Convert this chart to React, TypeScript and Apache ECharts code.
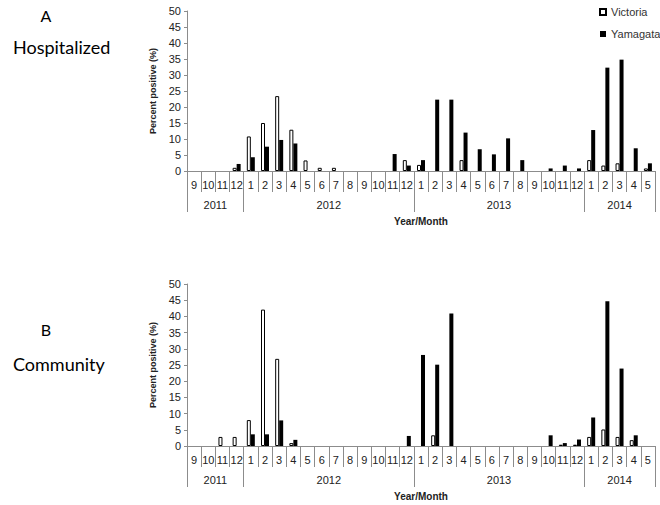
import React, { useEffect, useRef } from "react";
import * as echarts from "echarts";

const months = [
  "9", "10", "11", "12",
  "1", "2", "3", "4", "5", "6", "7", "8", "9", "10", "11", "12",
  "1", "2", "3", "4", "5", "6", "7", "8", "9", "10", "11", "12",
  "1", "2", "3", "4", "5",
];
const years = ["2011", "2012", "2013", "2014"];
const yearSpans = [4, 12, 12, 5];

const hospVictoria = [
  0, 0, 0, 1.0,
  10.8, 15.0, 23.4, 12.9, 3.3, 1.0, 1.0, 0, 0, 0, 0, 3.4,
  1.9, 0, 0, 3.4, 0, 0, 0, 0, 0, 0, 0, 0,
  3.4, 1.7, 2.4, 0, 0.8,
];
const hospYamagata = [
  0, 0, 0, 2.2,
  4.3, 7.6, 9.7, 8.6, 0, 0, 0, 0, 0, 0, 5.3, 1.7,
  3.4, 22.3, 22.3, 12.0, 6.8, 5.2, 10.2, 3.4, 0, 0.8, 1.7, 0.8,
  12.8, 32.3, 34.8, 7.1, 2.4,
];
const commVictoria = [
  0, 0, 2.8, 2.8,
  8.0, 42.1, 26.9, 0.9, 0, 0, 0, 0, 0, 0, 0, 0,
  0, 3.3, 0, 0, 0, 0, 0, 0, 0, 0, 0.4, 0.4,
  2.8, 5.1, 2.8, 1.8, 0,
];
const commYamagata = [
  0, 0, 0, 0,
  3.6, 3.6, 7.9, 1.9, 0, 0, 0, 0, 0, 0, 0, 3.1,
  28.1, 25.1, 40.9, 0, 0, 0, 0, 0, 0, 3.3, 0.9, 2.0,
  8.8, 44.7, 23.9, 3.3, 0,
];

const AXIS_COLOR = "#8c8c8c";
const TEXT_COLOR = "#222";
const FONT = "Liberation Sans";

export default function App() {
  const ref = useRef<HTMLDivElement>(null);

  useEffect(() => {
    if (!ref.current) return;
    const chart = echarts.init(ref.current, undefined, { renderer: "svg" });

    const boundaries: number[] = [0];
    const centers: number[] = [];
    let acc = 0;
    yearSpans.forEach((s) => {
      centers.push(acc + s / 2);
      acc += s;
      boundaries.push(acc);
    });
    const total = acc;

    const monthAxis = (g: number) => ({
      type: "category",
      gridIndex: g,
      data: months,
      position: "bottom",
      axisLine: { show: true, lineStyle: { color: AXIS_COLOR, width: 1 } },
      axisTick: { show: true, interval: 0, length: 21, lineStyle: { color: AXIS_COLOR } },
      axisLabel: { interval: 0, margin: 8, fontSize: 11, color: TEXT_COLOR, fontFamily: FONT },
    });

    const yearAxis = (g: number) => ({
      type: "value",
      gridIndex: g,
      min: 0,
      max: total,
      position: "bottom",
      axisLine: { show: false },
      splitLine: { show: false },
      axisTick: {
        show: true,
        customValues: boundaries,
        length: 41,
        lineStyle: { color: AXIS_COLOR },
      },
      axisLabel: {
        show: true,
        customValues: centers,
        margin: 28,
        fontSize: 11,
        color: TEXT_COLOR,
        fontFamily: FONT,
        formatter: (v: number) => {
          const i = centers.findIndex((c) => Math.abs(c - v) < 1e-6);
          return i >= 0 ? years[i] : "";
        },
      },
      name: "Year/Month",
      nameLocation: "middle",
      nameGap: 45,
      nameTextStyle: { fontWeight: "bold", fontSize: 10, color: TEXT_COLOR, fontFamily: FONT },
    });

    const yAxis = (g: number) => ({
      type: "value",
      gridIndex: g,
      min: 0,
      max: 50,
      interval: 5,
      axisLine: { show: true, lineStyle: { color: AXIS_COLOR } },
      axisTick: { show: true, length: 3, lineStyle: { color: AXIS_COLOR } },
      splitLine: { show: false },
      axisLabel: { fontSize: 11, color: TEXT_COLOR, margin: 6, fontFamily: FONT },
      name: "Percent positive (%)",
      nameLocation: "middle",
      nameGap: 23,
      nameTextStyle: { fontWeight: "bold", fontSize: 9, color: TEXT_COLOR, fontFamily: FONT },
    });

    const vicStyle = { color: "#ffffff", borderColor: "#000000", borderWidth: 1 };
    const yamStyle = { color: "#000000" };

    // months with no positives draw no bar at all
    const visible = (arr: number[]) => arr.map((v) => (v === 0 ? null : v));

    const bar = (name: string, data: number[], xi: number, yi: number, style: any) => ({
      name,
      type: "bar",
      xAxisIndex: xi,
      yAxisIndex: yi,
      data: visible(data),
      barWidth: 4,
      barGap: "0%",
      itemStyle: style,
      emphasis: { disabled: true },
    });

    const option: any = {
      animation: false,
      backgroundColor: "#ffffff",
      textStyle: { fontFamily: FONT },
      legend: {
        data: ["Victoria", "Yamagata"],
        orient: "vertical",
        left: 594,
        top: 1,
        itemWidth: 6,
        itemHeight: 6,
        itemGap: 10,
        icon: "rect",
        textStyle: { fontSize: 11, color: "#333", fontFamily: FONT, lineHeight: 12 },
      },
      grid: [
        { left: 187, top: 11, width: 468, height: 160 },
        { left: 187, top: 284, width: 468, height: 162 },
      ],
      xAxis: [monthAxis(0), yearAxis(0), monthAxis(1), yearAxis(1)],
      yAxis: [yAxis(0), yAxis(1)],
      series: [
        bar("Victoria", hospVictoria, 0, 0, vicStyle),
        bar("Yamagata", hospYamagata, 0, 0, yamStyle),
        bar("Victoria", commVictoria, 2, 1, vicStyle),
        bar("Yamagata", commYamagata, 2, 1, yamStyle),
      ],
      graphic: [
        { type: "text", x: 46, y: 15, style: { text: "A", fontSize: 16, fontFamily: "Lato", fill: "#000", align: "center", verticalAlign: "middle" } },
        { type: "text", x: 13, y: 47, style: { text: "Hospitalized", fontSize: 18, fontFamily: "Lato", fill: "#000", align: "left", verticalAlign: "middle" } },
        { type: "text", x: 46, y: 329, style: { text: "B", fontSize: 16, fontFamily: "Lato", fill: "#000", align: "center", verticalAlign: "middle" } },
        { type: "text", x: 13, y: 364, style: { text: "Community", fontSize: 18, fontFamily: "Lato", fill: "#000", align: "left", verticalAlign: "middle" } },
      ],
    };

    chart.setOption(option);
    return () => chart.dispose();
  }, []);

  return (
    <div
      ref={ref}
      style={{ position: "fixed", left: 0, top: 0, width: 660, height: 505, background: "#fff" }}
    />
  );
}
